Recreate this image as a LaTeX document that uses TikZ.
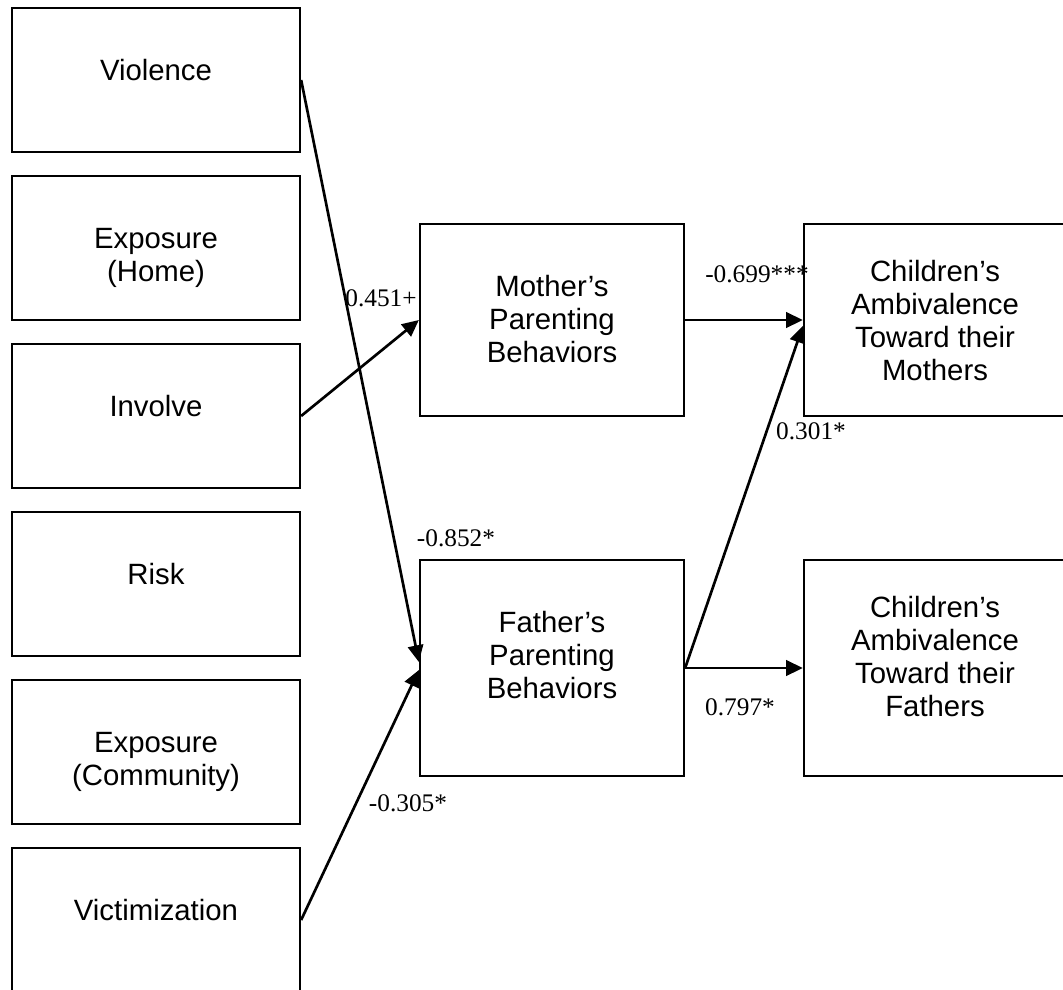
\documentclass[tikz,border=0pt]{standalone}
\usepackage{fontspec}
\setmainfont{Liberation Serif}
\setsansfont{Liberation Sans}
\usetikzlibrary{arrows.meta}

% box text hangs from the top edge
\newcommand\topbox[4]{\parbox[c][#2][t]{#1}{\centering\rule{0pt}{#3}#4}}

\tikzset{
  var/.style={draw, line width=1.7pt, inner sep=0pt,
    font=\sffamily\fontsize{22pt}{24.75pt}\selectfont},
  link/.style={line width=2pt, -{Triangle[length=12.5pt,width=11.5pt]}},
  coef/.style={inner sep=0pt, font=\fontsize{19pt}{22pt}\selectfont}
}

\begin{document}
\begin{tikzpicture}[x=0.75pt, y=-0.75pt]

        \useasboundingbox (0,0) rectangle (1063,989);

        \begin{scope}[every node/.style={var}]
          \node (violence)  at (156,80)  {\topbox{216pt}{108pt}{54pt}{Violence}};
          \node (home)      at (156,248) {\topbox{216pt}{108pt}{54pt}{Exposure\\(Home)}};
          \node (involve)   at (156,416) {\topbox{216pt}{108pt}{54pt}{Involve}};
          \node (risk)      at (156,584) {\topbox{216pt}{108pt}{54pt}{Risk}};
          \node (community) at (156,752) {\topbox{216pt}{108pt}{54pt}{Exposure\\(Community)}};
          \node (victim)    at (156,920) {\topbox{216pt}{108pt}{54pt}{Victimization}};
          \node (mother)    at (552,320) {\topbox{198pt}{144pt}{54pt}{Mother’s\\Parenting\\Behaviors}};
          \node (father)    at (552,668) {\topbox{198pt}{162pt}{54pt}{Father’s\\Parenting\\Behaviors}};
          \node (cmother)   at (935,320) {\topbox{196.5pt}{144pt}{42.75pt}{Children’s\\Ambivalence\\Toward their\\Mothers}};
          \node (cfather)   at (935,668) {\topbox{196.5pt}{162pt}{42.75pt}{Children’s\\Ambivalence\\Toward their\\Fathers}};
        \end{scope}

        \begin{scope}[every path/.style={link}]
          \draw (involve.east)  -- (mother.west);
          \draw (violence.east) -- ([yshift=4.5pt]father.west);
          \draw (victim.east)   -- ([yshift=-1.5pt]father.west);
          \draw (mother.east) -- (cmother.west);
          \draw (father.east) -- ([yshift=-4.5pt]cmother.west);
          \draw (father.east) -- (cfather.west);
        \end{scope}

        \begin{scope}[every node/.style={coef}]
          \node (c1) at (381,298) {0.451+};
          \node (c2) at (757,274) {-0.699***};
          \node (c3) at (811,431) {0.301*};
          \node (c4) at (456,538) {-0.852*};
          \node (c5) at (740,707) {0.797*};
          \node (c6) at (408,803) {-0.305*};
        \end{scope}

      \end{tikzpicture}
\end{document}
